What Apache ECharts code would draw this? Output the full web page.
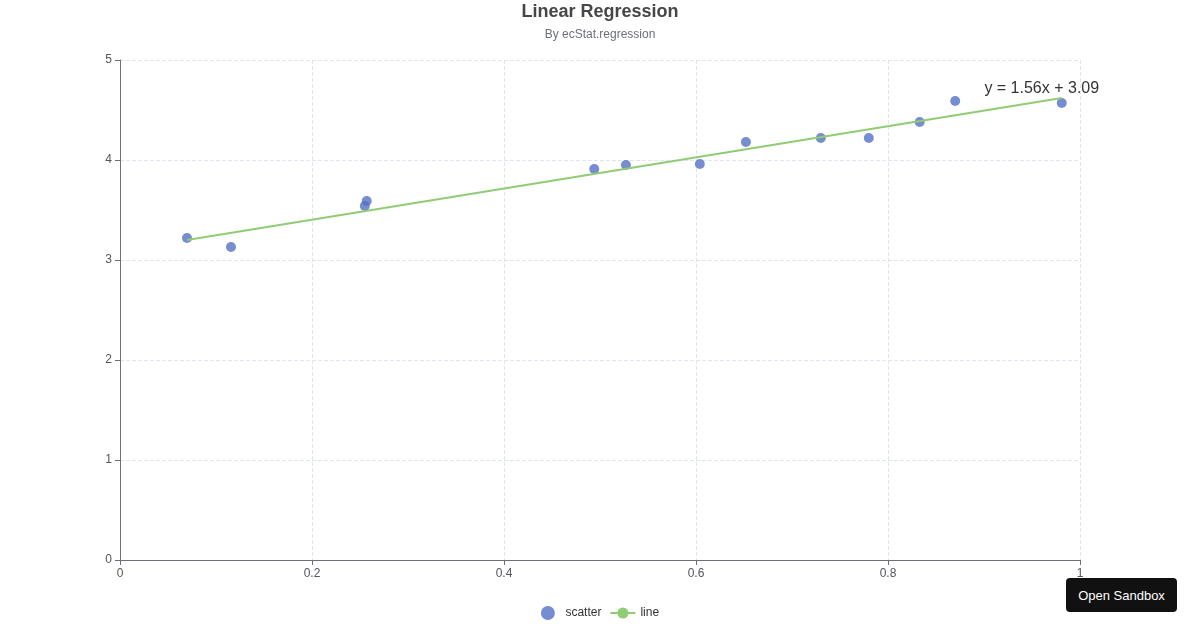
<!DOCTYPE html>
<html><head><meta charset="utf-8">
<script src="https://cdn.jsdelivr.net/npm/echarts@6/dist/echarts.min.js"></script>
<style>html,body{margin:0;padding:0;background:#fff}#c{width:1200px;height:630px}
#btn{position:absolute;left:1066px;top:578px;width:111px;height:34px;background:#111;color:#fff;border-radius:4px;font:13px 'Liberation Sans',Arial,sans-serif;display:flex;align-items:center;justify-content:center}</style>
</head><body><div id="c"></div><div id="btn">Open Sandbox</div>
<script>
const scatterX = [0.0698,0.1156,0.255,0.257,0.494,0.527,0.604,0.652,0.730,0.780,0.833,0.870,0.981];
const scatterY = [3.22,3.13,3.54,3.59,3.91,3.95,3.96,4.18,4.22,4.22,4.38,4.59,4.57];
const lineX = [0.0698,0.981];
const lineY = [3.20,4.62];
const equation = 'y = 1.56x + 3.09';
const chart = echarts.init(document.getElementById('c'));
const ff = "'Liberation Sans', Arial, sans-serif";
const last = lineX.length-1;
chart.setOption({
  textStyle:{fontFamily:ff},
  title:{text:'Linear Regression',subtext:'By ecStat.regression',left:'center',top:-2,
    textStyle:{fontSize:18,fontWeight:'bold',color:'#464646',fontFamily:ff},
    subtextStyle:{fontSize:12,color:'#6e7079',fontFamily:ff},itemGap:8},
  legend:{bottom:5,data:['scatter','line'],textStyle:{fontSize:12,color:'#333'}},
  grid:{left:120,right:120,top:60,bottom:70},
  xAxis:{type:'value',min:0,max:1,interval:0.2,
    axisLine:{lineStyle:{color:'#6e7079'}},axisTick:{show:true},
    splitLine:{lineStyle:{type:'dashed',color:'#e0e6f1'}}},
  yAxis:{type:'value',min:0,max:5,interval:1,
    axisLine:{show:true,lineStyle:{color:'#6e7079'}},axisTick:{show:true},
    splitLine:{lineStyle:{type:'dashed',color:'#e0e6f1'}}},
  series:[
    {name:'scatter',type:'scatter',symbolSize:10,itemStyle:{color:'#5470c6',opacity:0.8},
     data:scatterX.map((x,i)=>[x,scatterY[i]])},
    {name:'line',type:'line',showSymbol:false,symbol:'circle',symbolSize:10,
     itemStyle:{color:'#91cc75'},lineStyle:{width:2,color:'#91cc75'},
     data:lineX.map((x,i)=>[x,lineY[i]]),
     markPoint:{symbol:'circle',symbolSize:0,itemStyle:{color:'transparent'},
       label:{show:true,position:'top',offset:[-20,4],formatter:equation,fontSize:16,color:'#333'},
       data:[{coord:[lineX[last],lineY[last]]}]}}
  ]
});
</script></body></html>
